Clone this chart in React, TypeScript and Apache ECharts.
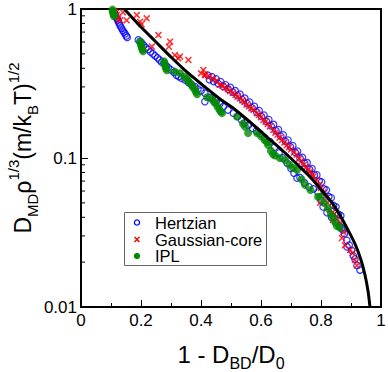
import React, { useEffect, useRef } from 'react';
import * as echarts from 'echarts';

const FONT = 'Liberation Sans';

const seriesNames = ['Hertzian', 'Gaussian-core', 'IPL'];

const hertzian: [number, number][] = [
  [0.113,0.93],[0.116,0.9],[0.119,0.87],[0.122,0.845],[0.125,0.82],[0.128,0.795],[0.131,0.77],[0.135,0.745],[0.139,0.72],[0.143,0.7],[0.147,0.68],[0.151,0.66],[0.154,0.645],
  [0.191,0.62],[0.197,0.605],[0.203,0.59],[0.209,0.57],[0.216,0.55],[0.224,0.535],[0.232,0.515],[0.24,0.5],[0.247,0.485],[0.255,0.47],[0.262,0.455],[0.269,0.44],[0.277,0.43],[0.284,0.415],[0.291,0.405],[0.3,0.39],[0.31,0.375],[0.318,0.36],[0.326,0.352],[0.335,0.343],[0.347,0.334],[0.358,0.322],[0.368,0.312],[0.38,0.301],[0.39,0.29],[0.4,0.282],[0.413,0.272],[0.413,0.239],[0.43,0.255],[0.447,0.251],[0.452,0.243],[0.463,0.232],[0.474,0.221],[0.49,0.21],[0.508,0.2],[0.522,0.19],[0.535,0.18],[0.546,0.172],[0.558,0.166],[0.572,0.158],[0.585,0.152],[0.597,0.146],[0.612,0.137],[0.63,0.129],[0.645,0.118],[0.66,0.108],[0.673,0.1],[0.687,0.0925],[0.7,0.085],[0.71,0.079],[0.72,0.0734],[0.73,0.074],[0.745,0.068],[0.76,0.064],[0.775,0.062],[0.79,0.059],[0.8,0.052],[0.807,0.047],[0.82,0.043],[0.835,0.04],[0.85,0.037],[0.862,0.035],[0.873,0.0329],[0.887,0.0253],
  [0.422,0.36],[0.428,0.335],[0.436,0.352],[0.442,0.326],[0.45,0.34],[0.458,0.315],[0.466,0.325],[0.474,0.302],[0.482,0.31],[0.49,0.29],[0.498,0.298],[0.506,0.277],[0.514,0.283],[0.522,0.262],[0.53,0.268],[0.538,0.246],[0.546,0.252],[0.554,0.232],[0.562,0.237],[0.57,0.217],[0.578,0.222],[0.586,0.203],[0.594,0.208],[0.602,0.19],[0.61,0.194],[0.618,0.176],[0.626,0.181],[0.634,0.164],[0.642,0.168],[0.65,0.152],[0.658,0.155],[0.666,0.14],[0.674,0.143],[0.682,0.129],[0.69,0.132],[0.698,0.119],[0.706,0.121],[0.714,0.109],[0.722,0.111],[0.73,0.1],[0.738,0.101],[0.746,0.092],[0.754,0.093],[0.762,0.084],[0.77,0.085],[0.778,0.077],[0.786,0.077],[0.794,0.07],[0.802,0.069],[0.81,0.062],[0.818,0.061],[0.826,0.055],[0.834,0.054],[0.842,0.048],[0.85,0.047],[0.858,0.042],[0.866,0.041],
  [0.869,0.034],[0.878,0.031],[0.886,0.028],[0.894,0.026],[0.902,0.024],[0.908,0.022],[0.913,0.021],[0.92,0.019],[0.93,0.0177],
];

const gaussianCore: [number, number][] = [
  [0.112,0.97],[0.116,0.94],[0.119,0.91],[0.124,0.866],[0.13,0.84],[0.14,0.95],[0.152,0.84],[0.186,0.91],[0.197,0.82],[0.202,0.79],[0.219,0.866],[0.236,0.56],[0.258,0.669],[0.293,0.558],[0.297,0.604],[0.313,0.491],[0.324,0.467],[0.33,0.48],[0.358,0.455],[0.408,0.39],[0.413,0.361],
  [0.4,0.37],[0.415,0.36],[0.428,0.352],[0.44,0.34],[0.452,0.33],[0.463,0.31],[0.472,0.305],[0.48,0.296],[0.49,0.29],[0.497,0.28],[0.506,0.273],[0.515,0.265],[0.522,0.258],[0.53,0.251],[0.538,0.243],[0.545,0.237],[0.552,0.228],[0.56,0.222],[0.568,0.215],[0.575,0.21],[0.586,0.2],[0.593,0.194],[0.6,0.188],[0.608,0.18],[0.615,0.175],[0.622,0.169],[0.63,0.163],[0.641,0.154],[0.648,0.148],[0.655,0.143],[0.662,0.137],[0.67,0.132],[0.678,0.127],[0.686,0.122],[0.693,0.118],[0.7,0.114],[0.71,0.109],[0.719,0.105],[0.727,0.099],[0.735,0.095],[0.743,0.09],[0.75,0.087],[0.757,0.083],[0.763,0.081],[0.77,0.077],[0.775,0.075],[0.786,0.071],[0.793,0.066],[0.8,0.063],[0.808,0.059],[0.815,0.055],[0.822,0.05],[0.83,0.0448],[0.838,0.043],[0.845,0.042],[0.853,0.039],[0.863,0.0365],[0.875,0.032],
  [0.797,0.05],[0.84,0.0384],[0.87,0.029],[0.88,0.026],[0.897,0.0241],[0.905,0.023],[0.913,0.0207],[0.92,0.019],
];

const ipl: [number, number][] = [
  [0.105,0.99],[0.106,0.965],[0.107,0.94],[0.109,0.915],[0.11,0.895],
  [0.197,0.605],[0.199,0.585],[0.201,0.565],[0.203,0.55],[0.205,0.535],[0.207,0.52],
  [0.277,0.445],[0.279,0.43],[0.281,0.415],[0.283,0.4],[0.286,0.388],
  [0.313,0.38],[0.33,0.37],[0.345,0.352],[0.352,0.34],[0.358,0.33],[0.365,0.315],[0.372,0.302],[0.378,0.29],[0.383,0.278],[0.387,0.268],
  [0.42,0.256],[0.436,0.25],[0.442,0.24],[0.447,0.234],[0.455,0.222],[0.461,0.212],[0.466,0.205],[0.47,0.2],
  [0.52,0.19],[0.54,0.17],[0.547,0.162],[0.557,0.147],[0.587,0.147],[0.6,0.14],[0.612,0.132],[0.62,0.128],[0.624,0.122],[0.633,0.112],[0.64,0.106],[0.647,0.104],[0.663,0.1],[0.68,0.097],[0.695,0.09],[0.707,0.086],[0.72,0.083],[0.735,0.072],[0.747,0.066],[0.765,0.061],[0.79,0.055],[0.797,0.055],[0.81,0.05],[0.823,0.046],[0.833,0.042],[0.84,0.04],[0.847,0.037],[0.853,0.035],[0.863,0.034],
];

const theory: [number, number][] = [
  [0.1443,1],[0.1967,0.769],[0.2467,0.61],[0.3033,0.469],[0.3567,0.372],[0.4133,0.2996],[0.4633,0.2489],[0.5067,0.2166],[0.5633,0.1744],[0.62,0.1383],[0.6733,0.1114],[0.73,0.087],[0.77,0.0723],[0.8067,0.0591],[0.84,0.0491],[0.8667,0.0402],[0.89,0.0329],[0.9133,0.0265],[0.9333,0.0207],[0.9467,0.0164],[0.9567,0.0128],[0.9633,0.01],
];

const xRange = [0, 1];
const xStep = 0.2;
const yRange = [0.01, 1];
const yTickLabels: Record<string, string> = { '0.01': '0.01', '0.1': '0.1', '1': '1' };
const yMinorTicks = [0.02,0.03,0.04,0.05,0.06,0.07,0.08,0.09,0.2,0.3,0.4,0.5,0.6,0.7,0.8,0.9];

const crossPath = 'path://M0,1.6L1.6,0L5,3.4L8.4,0L10,1.6L6.6,5L10,8.4L8.4,10L5,6.6L1.6,10L0,8.4L3.4,5Z';

const COLORS = { hertzian: '#0000ff', gaussian: '#ff0000', ipl: '#008a00' };

const richY = {
  a: { fontSize: 23, fontFamily: FONT, color: '#000', lineHeight: 34, verticalAlign: 'middle' },
  s: { fontSize: 15, fontFamily: FONT, color: '#000', lineHeight: 15, verticalAlign: 'bottom' },
  p: { fontSize: 15, fontFamily: FONT, color: '#000', lineHeight: 15, verticalAlign: 'top' },
};
const richX = {
  a: { fontSize: 24, fontFamily: FONT, color: '#000', lineHeight: 34, verticalAlign: 'middle' },
  s: { fontSize: 16, fontFamily: FONT, color: '#000', lineHeight: 16, verticalAlign: 'bottom' },
};

// legend box layout (pixels)
const LEG = { x: 124, y: 212, w: 143, h: 54, iconX: 137, textX: 155, rows: [222.5, 239.5, 256] };

function legendGraphic() {
  const els: any[] = [
    {
      type: 'rect', z: 100,
      shape: { x: LEG.x + 0.5, y: LEG.y + 0.5, width: LEG.w - 1, height: LEG.h - 1 },
      style: { fill: '#fff', stroke: '#666', lineWidth: 1 },
    },
    {
      type: 'circle', z: 101,
      shape: { cx: LEG.iconX, cy: LEG.rows[0], r: 2.6 },
      style: { fill: 'none', stroke: COLORS.hertzian, lineWidth: 1.3 },
    },
    {
      type: 'line', z: 101,
      shape: { x1: LEG.iconX - 2.5, y1: LEG.rows[1] - 2.5, x2: LEG.iconX + 2.5, y2: LEG.rows[1] + 2.5 },
      style: { stroke: COLORS.gaussian, lineWidth: 1.5 },
    },
    {
      type: 'line', z: 101,
      shape: { x1: LEG.iconX - 2.5, y1: LEG.rows[1] + 2.5, x2: LEG.iconX + 2.5, y2: LEG.rows[1] - 2.5 },
      style: { stroke: COLORS.gaussian, lineWidth: 1.5 },
    },
    {
      type: 'circle', z: 101,
      shape: { cx: LEG.iconX, cy: LEG.rows[2], r: 3.2 },
      style: { fill: COLORS.ipl },
    },
  ];
  seriesNames.forEach((name, i) => {
    els.push({
      type: 'text', z: 101, x: LEG.textX, y: LEG.rows[i],
      style: { text: name, fontSize: 16.5, fontFamily: FONT, fill: '#000', verticalAlign: 'middle', align: 'left' },
    });
  });
  return els;
}

export default function App() {
  const ref = useRef<HTMLDivElement>(null);
  useEffect(() => {
    const chart = echarts.init(ref.current!, null, { renderer: 'svg' });
    chart.setOption({
      animation: false,
      backgroundColor: '#fff',
      textStyle: { fontFamily: FONT },
      grid: {
        left: 81, top: 9, right: 7, bottom: 65,
        show: true, borderColor: '#000', borderWidth: 2,
        containLabel: false, outerBoundsMode: 'none',
      },
      graphic: legendGraphic(),
      xAxis: {
        type: 'value', min: xRange[0], max: xRange[1], interval: xStep,
        axisLine: { lineStyle: { color: '#000', width: 2 } },
        axisTick: { inside: true, length: 7, lineStyle: { color: '#000', width: 1 } },
        minorTick: { show: true, splitNumber: 2, length: 4, lineStyle: { color: '#000', width: 1 } },
        splitLine: { show: false },
        axisLabel: {
          fontSize: 17, color: '#000', fontFamily: FONT, margin: 5,
          formatter: (v: number) => String(Math.round(v * 10) / 10),
        },
        name: '{a|1 - D}{s|BD}{a|/D}{s|0}',
        nameLocation: 'middle', nameGap: 30, nameMoveOverlap: false,
        nameTextStyle: { rich: richX },
      },
      yAxis: {
        type: 'log', logBase: 10, min: yRange[0], max: yRange[1],
        axisLine: { lineStyle: { color: '#000', width: 2 } },
        axisTick: { inside: true, length: 7, lineStyle: { color: '#000', width: 1 } },
        minorTick: { show: false },
        splitLine: { show: false },
        axisLabel: {
          fontSize: 17, color: '#000', fontFamily: FONT, margin: 4,
          formatter: (v: number) => yTickLabels[String(Number(v.toPrecision(1)))] ?? String(v),
        },
        name: '{a|D}{s|MD}{a|ρ}{p|1/3}{a|(m/k}{s|B}{a|T)}{p|1/2}',
        nameLocation: 'middle', nameRotate: 90, nameGap: 41, nameMoveOverlap: false,
        nameTextStyle: { rich: richY, padding: [0, 0, 0, 20] },
      },
      series: [
        {
          name: seriesNames[0], type: 'scatter', data: hertzian,
          symbol: 'circle', symbolSize: 6.5,
          itemStyle: { color: 'rgba(0,0,0,0)', borderColor: COLORS.hertzian, borderWidth: 1.2 },
          silent: true, z: 2,
        },
        {
          name: seriesNames[1], type: 'scatter', data: gaussianCore,
          symbol: crossPath, symbolSize: 7,
          itemStyle: { color: COLORS.gaussian },
          silent: true, z: 3,
        },
        {
          name: seriesNames[2], type: 'scatter', data: ipl,
          symbol: 'circle', symbolSize: 8,
          itemStyle: { color: COLORS.ipl },
          silent: true, z: 4,
        },
        {
          name: 'theory', type: 'line', data: theory,
          symbol: 'none', smooth: 0.3,
          lineStyle: { color: '#000', width: 3 },
          silent: true, z: 5,
        },
        {
          name: 'minorTicks', type: 'custom', silent: true, z: 6,
          data: yMinorTicks.map((v) => [xRange[0], v]),
          renderItem: (params: any, api: any) => {
            const p = api.coord([api.value(0), api.value(1)]);
            return {
              type: 'line',
              shape: { x1: p[0], y1: p[1], x2: p[0] + 4, y2: p[1] },
              style: { stroke: '#000', lineWidth: 1 },
            };
          },
        },
      ],
    });
    return () => chart.dispose();
  }, []);
  return (
    <div
      ref={ref}
      style={{ position: 'absolute', left: 0, top: 0, width: 388, height: 372, background: '#fff' }}
    />
  );
}
